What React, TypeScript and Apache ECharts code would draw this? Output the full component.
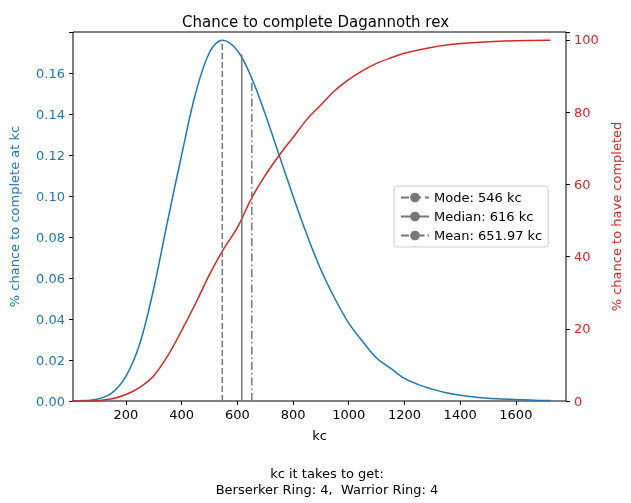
import React, { useEffect, useRef } from "react";
import * as echarts from "echarts";

const kcPoints = [0,50,100,150,200,250,300,350,400,450,500,546,600,650,700,750,800,850,900,950,1000,1050,1100,1150,1200,1250,1300,1350,1400,1450,1500,1550,1600,1650,1700,1724];
const pdfValues = [0,0.0002,0.001,0.004,0.012,0.028,0.055,0.088,0.12,0.15,0.17,0.176,0.171,0.158,0.14,0.12,0.1,0.081,0.064,0.05,0.038,0.029,0.021,0.016,0.011,0.008,0.0058,0.004,0.0028,0.002,0.0014,0.001,0.0007,0.0005,0.0003,0.0003];
const cdfKc = [0,50,100,150,200,250,300,350,400,450,500,550,600,650,700,750,800,850,900,950,1000,1050,1100,1150,1200,1300,1400,1500,1600,1724];
const cdfValues = [0,0.01,0.1,0.6,1.8,3.8,7,12.5,19.5,27,35,42,48,56,62.5,68,73,78,82,86,89,91.5,93.5,95,96.3,98,99,99.5,99.8,99.9];
const markers = [
  { name: "Mode: 546 kc", kc: 546, top: 0.176, type: "dashed" },
  { name: "Median: 616 kc", kc: 616, top: 0.169, type: "solid" },
  { name: "Mean: 651.97 kc", kc: 651.97, top: 0.158, type: [8, 3, 1.5, 3] },
];
const xTicks = [200, 400, 600, 800, 1000, 1200, 1400, 1600];

export default function App() {
  const ref = useRef<HTMLDivElement>(null);
  useEffect(() => {
    const chart = echarts.init(ref.current!, null, { renderer: "svg" });
    const font = "DejaVu Sans";
    chart.setOption({
      animation: false,
      textStyle: { fontFamily: font },
      title: [
        { text: "Chance to complete Dagannoth rex", left: "center", top: 9, textStyle: { fontFamily: font, fontSize: 15, fontWeight: "normal", color: "#000" } },
        { text: "kc it takes to get:\nBerserker Ring: 4,  Warrior Ring: 4", left: 322, textAlign: "center", top: 460, textStyle: { fontFamily: font, fontSize: 13, fontWeight: "normal", color: "#000", lineHeight: 16 } },
      ],
      grid: { left: 70, right: 65, top: 32, bottom: 102, show: true, borderColor: "#000", borderWidth: 1 },
      legend: {
        orient: "vertical", left: 394, top: 186, itemWidth: 28, itemHeight: 12, itemGap: 6,
        backgroundColor: "#fff", borderColor: "#ccc", borderWidth: 1, borderRadius: 3, padding: [5, 6, 5, 6],
        textStyle: { fontFamily: font, fontSize: 13, color: "#000" },
        data: markers.map((m) => m.name),
      },
      xAxis: {
        type: "value", min: 10, max: 1780,
        name: "kc", nameLocation: "middle", nameGap: 28, nameTextStyle: { fontFamily: font, fontSize: 13, color: "#000" },
        axisLine: { show: false }, splitLine: { show: false },
        axisTick: { show: true, length: 4, lineStyle: { color: "#000" }, customValues: xTicks },
        axisLabel: { fontFamily: font, fontSize: 13, color: "#000", margin: 7, customValues: xTicks, formatter: (v: number) => String(v) },
      },
      yAxis: [
        {
          type: "value", min: 0, max: 0.18, interval: 0.02,
          name: "% chance to complete at kc", nameLocation: "middle", nameGap: 52, nameRotate: 90,
          nameTextStyle: { fontFamily: font, fontSize: 13, color: "#1f77b4" },
          axisLine: { show: false }, splitLine: { show: false },
          axisTick: { show: true, length: 4, lineStyle: { color: "#000" } },
          axisLabel: { fontFamily: font, fontSize: 13, color: "#1f77b4", formatter: (v: number) => (v >= 0.179 ? "" : v.toFixed(2)) },
        },
        {
          type: "value", min: 0, max: 102.2, interval: 20,
          name: "% chance to have completed", nameLocation: "middle", nameGap: 36, nameRotate: 90,
          nameTextStyle: { fontFamily: font, fontSize: 13, color: "#d62728" },
          axisLine: { show: false }, splitLine: { show: false },
          axisTick: { show: true, length: 4, lineStyle: { color: "#000" } },
          axisLabel: { fontFamily: font, fontSize: 13, color: "#d62728", formatter: (v: number) => (v > 100 ? "" : String(v)) },
        },
      ],
      series: [
        { type: "line", name: "pdf", yAxisIndex: 0, smooth: 0.35, showSymbol: false, symbol: "none", lineStyle: { color: "#1f77b4", width: 1.5 }, itemStyle: { color: "#1f77b4" }, data: kcPoints.map((k, i) => [k, pdfValues[i]]) },
        { type: "line", name: "cdf", yAxisIndex: 1, smooth: 0.35, showSymbol: false, symbol: "none", lineStyle: { color: "#d62728", width: 1.5 }, itemStyle: { color: "#d62728" }, data: cdfKc.map((k, i) => [k, cdfValues[i]]) },
        ...markers.map((m) => ({
          type: "line", name: m.name, yAxisIndex: 0, showSymbol: false, symbol: "none",
          lineStyle: { color: "#777", width: 1.5, type: m.type }, itemStyle: { color: "#777" },
          data: [[m.kc, 0], [m.kc, m.top]],
        })),
      ],
    });
    return () => chart.dispose();
  }, []);
  return <div ref={ref} style={{ position: "fixed", left: 0, top: 0, width: 631, height: 503 }} />;
}
